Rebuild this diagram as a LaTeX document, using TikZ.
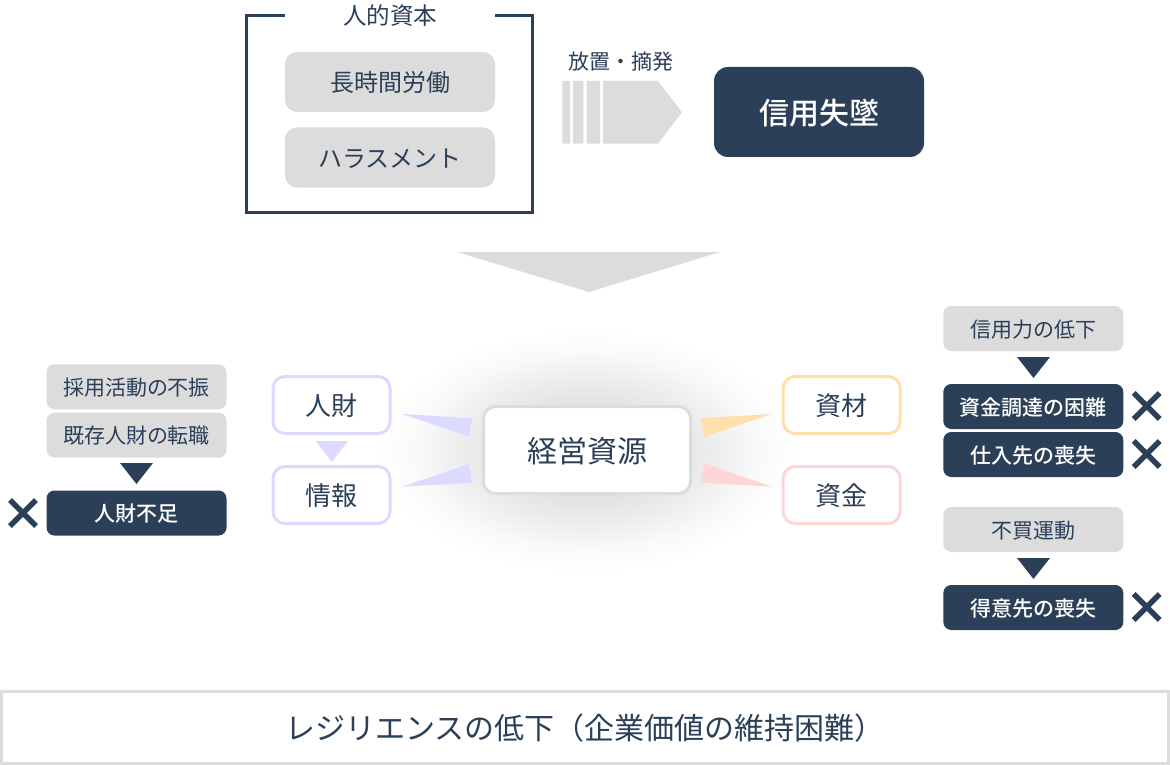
\documentclass[tikz,border=0pt]{standalone}
\usepackage{fontspec}
\setmainfont{Noto Sans CJK JP}
\newfontfamily\medfont{Noto Sans CJK JP Medium}
\definecolor{ink}{HTML}{2B4058}
\definecolor{greybox}{HTML}{DCDCDC}
\definecolor{lav}{HTML}{DCDAFF}
\definecolor{ora}{HTML}{FFDFAA}
\definecolor{pnk}{HTML}{FFD6D6}
\pgfdeclareradialshading{glow}{\pgfpointorigin}{
  color(0bp)=(black!15);
  color(10bp)=(black!11);
  color(15bp)=(black!7);
  color(20bp)=(black!2.5);
  color(25bp)=(white);
  color(50bp)=(white)}
\newcommand{\fs}[1]{\fontsize{#1pt}{#1pt}\selectfont}
\newcommand{\ct}[1]{\raisebox{-0.41em}[0pt][0pt]{#1}}
\tikzset{
  x=1pt,y=-1pt,
  base/.style={inner sep=0pt,outer sep=0pt,align=center,text=ink},
  greyL/.style={base,fill=greybox,rounded corners=12pt,minimum width=210pt,minimum height=60pt,font=\fs{24}},
  greyS/.style={base,fill=greybox,rounded corners=8pt,minimum width=180pt,minimum height=45pt,font=\fs{21}},
  darkS/.style={base,fill=ink,text=white,rounded corners=8pt,minimum width=180pt,minimum height=45pt,font=\fs{21}\medfont},
  resbox/.style={base,draw=#1,fill=white,line width=3pt,rounded corners=12pt,minimum width=117pt,minimum height=57pt,font=\fs{26}},
  lbl/.style={base},
  downtri/.style={fill=ink},
  crossmark/.style={draw=ink,line width=5.4pt}
}
\newcommand{\crossat}[2]{\draw[crossmark] (#1-13,#2-13) -- (#1+13,#2+13) (#1-13,#2+13) -- (#1+13,#2-13);}
\begin{document}
\begin{tikzpicture}
\useasboundingbox (0,0) rectangle (1170,765);
\fill[white] (0,0) rectangle (1170,765);
% glow
\shade[shading=glow] (587,451) ellipse [x radius=210,y radius=122];
% frame
\draw[ink,line width=3pt] (285,15.8) -- (246.5,15.8) -- (246.5,212.5) -- (532.5,212.5) -- (532.5,15.8) -- (495,15.8);
\node[lbl,font=\fs{23.5}] (hc) at (390,15) {\ct{人的資本}};
\node[greyL] (a1) at (390,82) {\ct{長時間労働}};
\node[greyL] (a2) at (390,157.5) {\ct{ハラスメント}};
% striped arrow
\node[lbl,font=\fs{21}] (a3) at (620.5,61) {\ct{放置・摘発}};
\fill[greybox] (562.3,81) rectangle (570,143.7) (573,81) rectangle (583.3,143.7) (586.7,81) rectangle (600,143.7);
\fill[greybox] (603,81) -- (658,81) -- (682,112.3) -- (658,143.7) -- (603,143.7) -- cycle;
\node[base,fill=ink,text=white,rounded corners=14pt,minimum width=210pt,minimum height=90pt,font=\fs{30}\medfont] (trust) at (819,112) {\ct{信用失墜}};
% big arrow
\fill[greybox] (457,252) -- (720,252) -- (589,292) -- cycle;
% left column
\node[greyS] (l1) at (136.5,386.8) {\ct{採用活動の不振}};
\node[greyS] (l2) at (136.5,435.2) {\ct{既存人財の転職}};
\fill[downtri] (120,463) -- (153,463) -- (136.5,484) -- cycle;
\node[darkS] (l3) at (136.5,513) {\ct{人財不足}};
\crossat{23}{513}
% resource boxes
\node[resbox=lav] (r1) at (331.5,405) {\ct{人財}};
\node[resbox=lav] (r2) at (331.5,495) {\ct{情報}};
\node[resbox=ora] (r3) at (841.7,405) {\ct{資材}};
\node[resbox=pnk] (r4) at (841.7,495) {\ct{資金}};
\fill[lav] (315.5,441) -- (348,441) -- (331.7,462) -- cycle;
\fill[lav] (402,414) -- (472.3,418.3) -- (469.3,436.7) -- cycle;
\fill[lav] (402,486.7) -- (469.3,464) -- (472.3,482.7) -- cycle;
\fill[ora] (700.7,418.3) -- (771.7,414) -- (704.5,436.7) -- cycle;
\fill[pnk] (704.5,463.3) -- (771.7,486.7) -- (700.7,482.7) -- cycle;
\node[base,draw=greybox,fill=white,line width=3pt,rounded corners=12pt,minimum width=207pt,minimum height=87pt,font=\fs{30}] (core) at (587,450) {\ct{経営資源}};
% right column
\node[greyS] (q1) at (1033.3,328.5) {\ct{信用力の低下}};
\fill[downtri] (1017,357) -- (1050,357) -- (1033.5,378) -- cycle;
\node[darkS] (q2) at (1033.3,406.5) {\ct{資金調達の困難}};
\node[darkS] (q3) at (1033.3,454.5) {\ct{仕入先の喪失}};
\node[greyS] (q4) at (1033.3,529.5) {\ct{不買運動}};
\fill[downtri] (1017,558) -- (1050,558) -- (1033.5,579) -- cycle;
\node[darkS] (q5) at (1033.3,607.5) {\ct{得意先の喪失}};
\crossat{1146.7}{406}
\crossat{1146.7}{454}
\crossat{1146.7}{607}
% bottom
\node[base,draw=greybox,line width=3pt,minimum width=1167pt,minimum height=72pt,font=\fs{30}] (bottom) at (585,727) {\ct{レジリエンスの低下（企業価値の維持困難）}};
\end{tikzpicture}
\end{document}
